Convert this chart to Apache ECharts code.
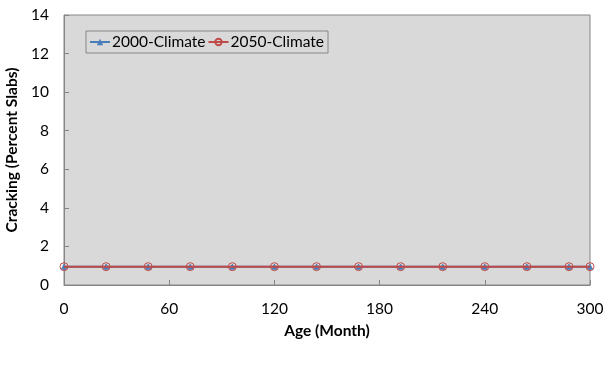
<!DOCTYPE html>
<html>
<head>
<meta charset="utf-8">
<script src="https://cdn.jsdelivr.net/npm/echarts@6/dist/echarts.min.js"></script>
<style>
html,body{margin:0;padding:0;background:#fff;}
#chart{width:606px;height:370px;}
</style>
</head>
<body>
<div id="chart"></div>
<script>
// Age in months at each analysis point
const ageMonths = [0, 24, 48, 72, 96, 120, 144, 168, 192, 216, 240, 264, 288, 300];
// Predicted slab cracking (percent slabs)
const cracking2000 = [0.95, 0.95, 0.95, 0.95, 0.95, 0.95, 0.95, 0.95, 0.95, 0.95, 0.95, 0.95, 0.95, 0.95];
const cracking2050 = [0.95, 0.95, 0.95, 0.95, 0.95, 0.95, 0.95, 0.95, 0.95, 0.95, 0.95, 0.95, 0.95, 0.95];
const seriesNames = ['2000-Climate', '2050-Climate'];

const font = 'Lato, "Open Sans", sans-serif';
const chart = echarts.init(document.getElementById('chart'));

const pairs = arr => ageMonths.map((m, i) => [m, arr[i]]);

chart.setOption({
  animation: false,
  textStyle: { fontFamily: font },
  grid: {
    left: 64, right: 16, top: 15, bottom: 85,
    containLabel: false, outerBoundsMode: 'none',
    show: true, backgroundColor: '#d9d9d9', borderColor: '#868686', borderWidth: 1
  },
  legend: {
    left: 86, top: 31,
    backgroundColor: '#d9d9d9',
    borderColor: '#868686', borderWidth: 1, borderRadius: 0,
    padding: [3, 4, 3, 3],
    itemGap: 2, itemWidth: 20, itemHeight: 8,
    textStyle: { fontFamily: font, fontSize: 15.5, color: '#000', padding: [0, 0, 0, -3] },
    data: seriesNames
  },
  xAxis: {
    type: 'value', min: 0, max: 300, interval: 60,
    name: 'Age (Month)', nameLocation: 'middle', nameGap: 38,
    nameTextStyle: { fontFamily: font, fontSize: 15.5, fontWeight: 'bold', color: '#000' },
    axisLine: { show: true, lineStyle: { color: '#868686' } },
    axisTick: { show: true, inside: true, length: 5, lineStyle: { color: '#868686' } },
    axisLabel: { fontFamily: font, fontSize: 15.5, color: '#000', margin: 16 },
    splitLine: { show: false }
  },
  yAxis: {
    type: 'value', min: 0, max: 14, interval: 2,
    name: 'Cracking (Percent Slabs)', nameLocation: 'middle', nameGap: 37,
    nameTextStyle: { fontFamily: font, fontSize: 15.5, fontWeight: 'bold', color: '#000' },
    axisLine: { show: true, lineStyle: { color: '#868686' } },
    axisTick: { show: true, inside: true, length: 5, lineStyle: { color: '#868686' } },
    axisLabel: { fontFamily: font, fontSize: 15.5, color: '#000', margin: 15 },
    splitLine: { show: false }
  },
  series: [
    {
      name: seriesNames[0], type: 'line', data: pairs(cracking2000),
      symbol: 'triangle', symbolSize: 5,
      lineStyle: { color: '#4a7ebb', width: 2 },
      itemStyle: { color: '#4a7ebb', borderColor: '#4a7ebb' },
      z: 2
    },
    {
      name: seriesNames[1], type: 'line', data: pairs(cracking2050),
      symbol: 'circle', symbolSize: 8,
      lineStyle: { color: '#be4b48', width: 2 },
      itemStyle: { color: 'rgba(0,0,0,0)', borderColor: '#be4b48', borderWidth: 1 },
      z: 3
    }
  ]
});
</script>
</body>
</html>
